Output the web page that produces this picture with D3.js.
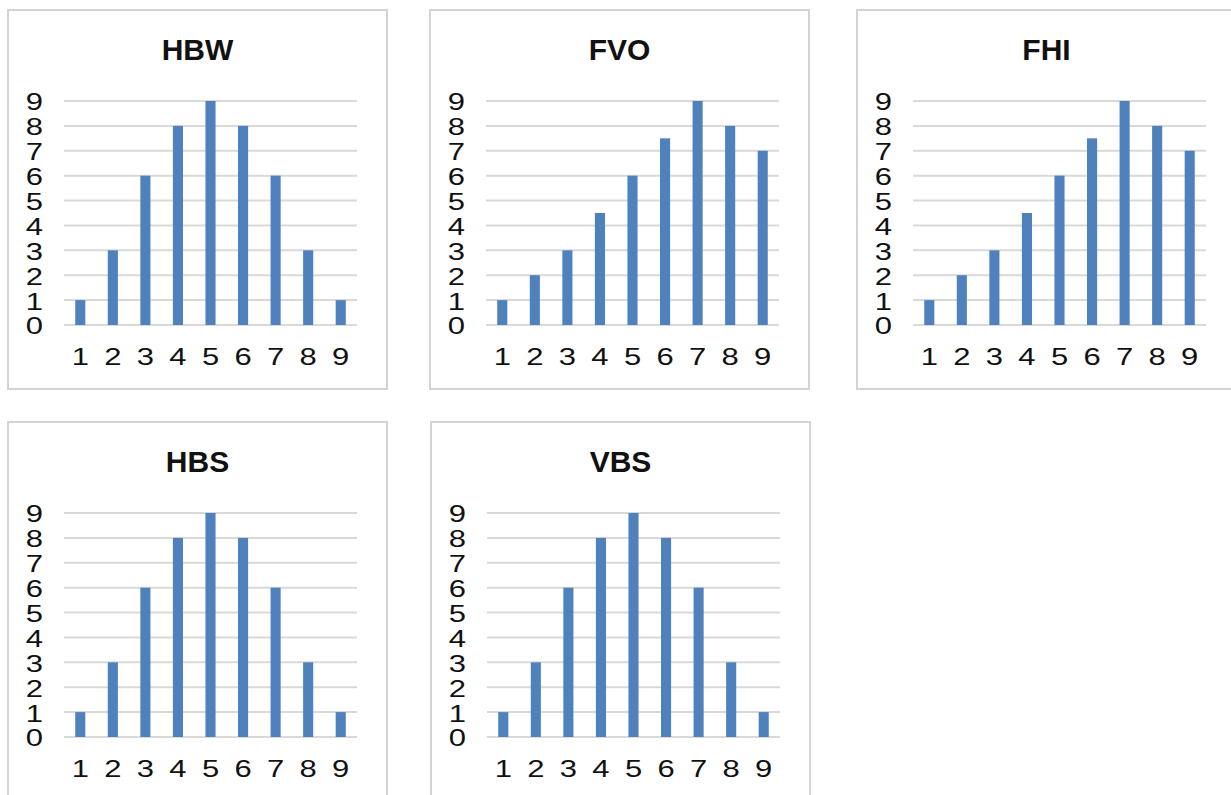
<!DOCTYPE html>
<html>
<head>
<meta charset="utf-8">
<script src="https://cdn.jsdelivr.net/npm/d3@7"></script>
<style>
  html, body { margin: 0; padding: 0; background: #fff; }
  svg { display: block; }
  text { font-family: "Liberation Sans", Arial, sans-serif; fill: #111; }
</style>
</head>
<body>
<svg id="chart" width="1231" height="795"></svg>
<script>
// Categories shared by every panel
const categories = [1, 2, 3, 4, 5, 6, 7, 8, 9];
const yTicks = [0, 1, 2, 3, 4, 5, 6, 7, 8, 9];

// Series values, one list per panel
const hbw = [1, 3, 6, 8, 9, 8, 6, 3, 1];
const fvo = [1, 2, 3, 4.5, 6, 7.5, 9, 8, 7];
const fhi = [1, 2, 3, 4.5, 6, 7.5, 9, 8, 7];
const hbs = [1, 3, 6, 8, 9, 8, 6, 3, 1];
const vbs = [1, 3, 6, 8, 9, 8, 6, 3, 1];

const titles = ["HBW", "FVO", "FHI", "HBS", "VBS"];
const seriesList = [hbw, fvo, fhi, hbs, vbs];

// Panel placement on the page
const origins = [[8, 10], [430, 10], [857, 10], [8, 422], [431, 422]];
const panelW = 379, panelH = 379;
const plot = { left: 56, right: 349, top: 91, bottom: 315 };
const labelStretch = 1.32;   // tick digits are drawn wide

const svg = d3.select("#chart");

seriesList.forEach((values, i) => {
  const [ox, oy] = origins[i];
  const g = svg.append("g").attr("transform", `translate(${ox},${oy})`);

  g.append("rect")
    .attr("x", 0).attr("y", 0)
    .attr("width", panelW).attr("height", panelH)
    .attr("fill", "#fff")
    .attr("stroke", "#d3d3d3")
    .attr("stroke-width", 2);

  const x = d3.scaleBand()
    .domain(categories)
    .range([plot.left, plot.right])
    .paddingInner(0.69)
    .paddingOuter(0.345);

  const y = d3.scaleLinear()
    .domain([0, 9])
    .range([plot.bottom, plot.top]);

  // Horizontal gridlines
  g.append("g").selectAll("line")
    .data(yTicks)
    .join("line")
    .attr("x1", plot.left).attr("x2", plot.right)
    .attr("y1", d => y(d)).attr("y2", d => y(d))
    .attr("stroke", "#d9d9d9")
    .attr("stroke-width", 2);

  // Bars
  g.append("g").selectAll("rect")
    .data(values)
    .join("rect")
    .attr("x", (d, j) => x(categories[j]))
    .attr("width", x.bandwidth())
    .attr("y", d => y(d))
    .attr("height", d => y(0) - y(d))
    .attr("fill", "#4f81bd");

  // Y axis labels
  const yAxis = d3.axisLeft(y).tickValues(yTicks).tickSize(0).tickPadding(0);
  const ya = g.append("g")
    .attr("transform", `translate(35,0)`)
    .call(yAxis);
  ya.select(".domain").remove();
  ya.selectAll("text")
    .attr("font-size", 23.5)
    .attr("font-family", "Liberation Sans, Arial, sans-serif")
    .attr("fill", "#111")
    .attr("x", 0)
    .attr("dy", "0.38em")
    .attr("transform", `scale(${labelStretch},1)`);

  // X axis labels
  const xAxis = d3.axisBottom(x).tickSize(0).tickPadding(0);
  const xa = g.append("g")
    .attr("transform", `translate(0,${plot.bottom})`)
    .call(xAxis);
  xa.select(".domain").remove();
  xa.selectAll("text")
    .attr("font-size", 23.5)
    .attr("font-family", "Liberation Sans, Arial, sans-serif")
    .attr("fill", "#111")
    .attr("dy", null)
    .attr("y", 355 - plot.bottom)
    .attr("transform", `scale(${labelStretch},1)`);

  // Panel title
  g.append("text")
    .attr("x", panelW / 2)
    .attr("y", 50)
    .attr("text-anchor", "middle")
    .attr("font-size", 30)
    .attr("font-weight", "bold")
    .attr("fill", "#111")
    .text(titles[i]);
});
</script>
</body>
</html>
